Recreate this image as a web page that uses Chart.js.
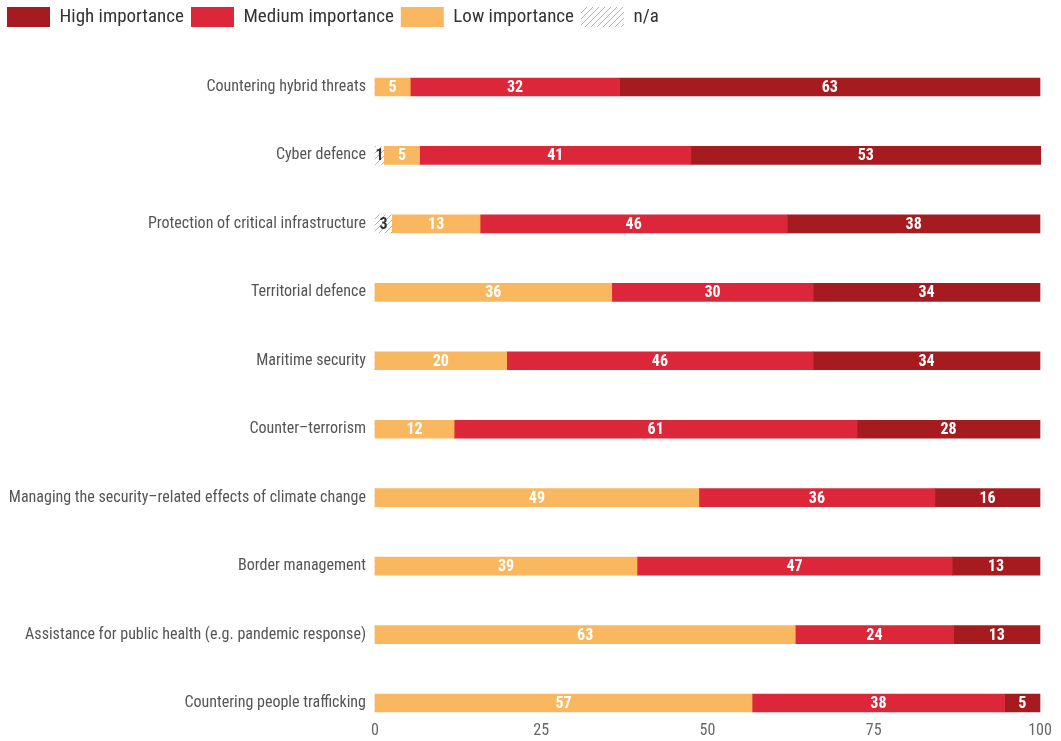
<!DOCTYPE html>
<html>
<head>
<meta charset="utf-8">
<script src="https://cdn.jsdelivr.net/npm/chart.js@4/dist/chart.umd.min.js"></script>
<style>
  html, body { margin: 0; padding: 0; background: #fff; }
  .wrap { width: 1061px; height: 741px; }
</style>
</head>
<body>
<div class="wrap"><canvas class="chart-1"></canvas></div>
<script>
var categories = ['Countering hybrid threats', 'Cyber defence', 'Protection of critical infrastructure',
    'Territorial defence', 'Maritime security', 'Counter\u2013terrorism',
    'Managing the security\u2013related effects of climate change', 'Border management',
    'Assistance for public health (e.g. pandemic response)', 'Countering people trafficking'];
var naValues = [0, 1.4, 2.6, 0, 0, 0, 0, 0, 0, 0];
var lowValues = [5.3, 5.3, 13.2, 35.6, 19.8, 11.9, 48.7, 39.4, 63.2, 56.7];
var mediumValues = [31.5, 40.8, 46.2, 30.3, 46.1, 60.6, 35.5, 47.4, 23.8, 38.0];
var highValues = [63.2, 52.6, 38.0, 34.1, 34.1, 27.5, 15.8, 13.2, 13.0, 5.3];
var xTicks = [0, 25, 50, 75, 100];

// Roboto is variable, "condensed" gives the narrow width
var FONT = 'Roboto, sans-serif';
var NARROW = 'condensed';

function makeHatch() {
    var c = document.createElement('canvas');
    c.width = 6; c.height = 6;
    var g = c.getContext('2d');
    g.strokeStyle = '#b4b4b4';
    g.lineWidth = 1;
    g.beginPath();
    g.moveTo(0, 6); g.lineTo(6, 0);
    g.moveTo(-1, 1); g.lineTo(1, -1);
    g.moveTo(5, 7); g.lineTo(7, 5);
    g.stroke();
    return g.createPattern(c, 'repeat');
}
var hatch = makeHatch();

// numbers in the middle of each segment
const segmentLabels = {
    id: 'segmentLabels',
    afterDatasetsDraw(chart) {
        const ctx = chart.ctx;
        ctx.save();
        ctx.textAlign = 'center';
        ctx.textBaseline = 'middle';
        ctx.font = 'bold condensed 16px ' + FONT;
        chart.data.datasets.forEach(function (ds, i) {
            chart.getDatasetMeta(i).data.forEach(function (bar, j) {
                var v = ds.data[j];
                if (!v) return;
                ctx.fillStyle = i === 0 ? '#333333' : '#ffffff';
                ctx.fillText(Math.round(v), (bar.x + bar.base) / 2, bar.y + 1);
            });
        });
        ctx.restore();
    }
};

// legend takes the space down to the first bar
const legendGap = {
    id: 'legendGap',
    beforeInit(chart) {
        const fit = chart.legend.fit;
        chart.legend.fit = function () {
            fit.bind(chart.legend)();
            this.height = 87;
        };
    }
};

var ctx1 = document.querySelector('.chart-1');
const chart1 = new Chart(ctx1, {
    type: 'bar',
    data: {
        labels: categories,
        datasets: [
            { label: 'n/a', data: naValues, backgroundColor: hatch },
            { label: 'Low importance', data: lowValues, backgroundColor: '#f9b85f' },
            { label: 'Medium importance', data: mediumValues, backgroundColor: '#dc2639' },
            { label: 'High importance', data: highValues, backgroundColor: '#a61b20' }
        ]
    },
    options: {
        indexAxis: 'y',
        responsive: true,
        maintainAspectRatio: false,
        animation: false,
        clip: false,
        barThickness: 18,
        layout: { padding: { left: 0, right: 21, top: 0, bottom: 0 } },
        plugins: {
            legend: {
                position: 'top',
                align: 'start',
                reverse: true,
                labels: {
                    boxWidth: 43,
                    boxHeight: 20,
                    padding: 7,
                    color: '#333333',
                    font: { family: FONT, weight: NARROW, size: 19 }
                }
            },
            tooltip: { enabled: false }
        },
        scales: {
            x: {
                stacked: true,
                min: 0,
                max: 100,
                afterBuildTicks: function (scale) {
                    scale.ticks = xTicks.map(function (v) { return { value: v }; });
                },
                afterFit: function (scale) {
                    scale.height = 38;
                    scale.paddingLeft = 0;
                    scale.paddingRight = 0;
                },
                grid: { display: false, drawTicks: false },
                border: { display: false },
                ticks: { color: '#666666', padding: 18, font: { family: FONT, weight: NARROW, size: 16 } }
            },
            y: {
                stacked: true,
                offset: false,
                afterFit: function (scale) { scale.width = 375; },
                grid: { display: false, drawTicks: false },
                border: { display: false },
                ticks: { color: '#555555', padding: 9, font: { family: FONT, weight: NARROW, size: 16 } }
            }
        }
    },
    plugins: [segmentLabels, legendGap]
});
</script>
</body>
</html>
